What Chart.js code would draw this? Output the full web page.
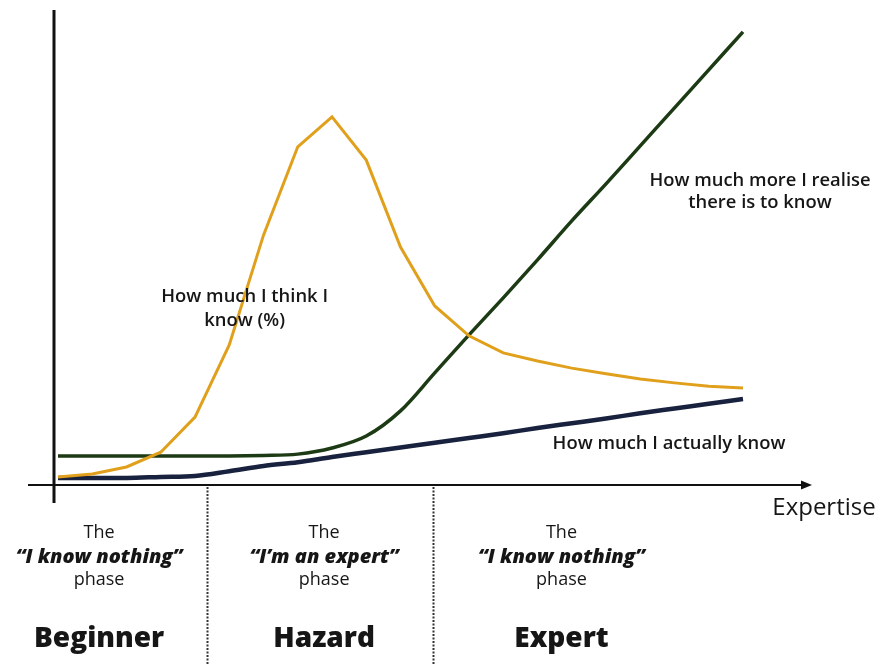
<!DOCTYPE html>
<html>
<head>
<meta charset="utf-8">
<script src="https://cdn.jsdelivr.net/npm/chart.js@4.4.1/dist/chart.umd.min.js"></script>
<style>
  html, body { margin: 0; padding: 0; background: #fff; }
  #wrap { width: 882px; height: 665px; position: relative; }
</style>
</head>
<body>
<div id="wrap"><canvas id="myChart"></canvas></div>
<script>
// expertise steps along the x axis
const stages = [0, 1, 2, 3, 4, 5, 6, 7, 8, 9, 10, 11, 12, 13, 14, 15, 16, 17, 18, 19, 20];

// how much I think I know (%)
const thinkKnow = [1.7, 2.3, 3.8, 6.9, 14.3, 29.5, 52.6, 71.2, 77.5, 68.4, 50.1, 37.7, 31.4, 27.8, 26.1, 24.6, 23.4, 22.3, 21.5, 20.8, 20.4];
// how much more I realise there is to know
const realiseMore = [6.1, 6.1, 6.1, 6.1, 6.1, 6.1, 6.2, 6.5, 7.8, 10.3, 15.6, 23.6, 31.6, 39.4, 47.4, 55.6, 63.4, 71.4, 79.4, 87.4, 95.4];
// how much I actually know
const actuallyKnow = [1.5, 1.5, 1.5, 1.7, 1.9, 2.9, 4.0, 4.8, 5.9, 6.9, 7.9, 8.9, 9.9, 10.9, 12.0, 13.0, 14.0, 15.1, 16.1, 17.1, 18.1];

// phases below the axis
const phaseEdges = [4.35, 10.95];
const phaseCenters = [1.2, 7.77, 14.7];
const phaseQuotes = ["\u201CI know nothing\u201D", "\u201CI\u2019m an expert\u201D", "\u201CI know nothing\u201D"];
const phaseNames = ["Beginner", "Hazard", "Expert"];

const FONT = "'Open Sans', Lato, sans-serif";

function pts(arr) {
  return stages.map((s, i) => ({ x: s, y: arr[i] }));
}

const curveDecor = {
  id: "curveDecor",
  afterDatasetsDraw(chart) {
    const { ctx, chartArea, scales } = chart;
    const x = scales.x, y = scales.y;
    const y0 = y.getPixelForValue(0);
    ctx.save();

    // y axis
    ctx.strokeStyle = "#111";
    ctx.lineWidth = 3;
    ctx.beginPath();
    ctx.moveTo(chartArea.left - 4, chartArea.top);
    ctx.lineTo(chartArea.left - 4, y0 + 18);
    ctx.stroke();

    // x axis with arrow
    ctx.lineWidth = 2;
    ctx.beginPath();
    ctx.moveTo(28, y0);
    ctx.lineTo(804, y0);
    ctx.stroke();
    ctx.fillStyle = "#111";
    ctx.beginPath();
    ctx.moveTo(812, y0);
    ctx.lineTo(801, y0 - 4.5);
    ctx.lineTo(801, y0 + 4.5);
    ctx.closePath();
    ctx.fill();

    // dotted phase dividers
    ctx.strokeStyle = "#333";
    ctx.lineWidth = 2;
    ctx.setLineDash([2, 1.5]);
    phaseEdges.forEach(e => {
      const px = Math.round(x.getPixelForValue(e)) + 0.5;
      ctx.beginPath();
      ctx.moveTo(px, y0 + 2);
      ctx.lineTo(px, chart.height);
      ctx.stroke();
    });
    ctx.setLineDash([]);

    ctx.fillStyle = "#161616";
    ctx.textAlign = "center";
    ctx.textBaseline = "middle";

    // phase texts
    phaseCenters.forEach((c, i) => {
      const px = x.getPixelForValue(c);
      ctx.font = "18px " + FONT;
      ctx.fillText("The", px, 533);
      ctx.font = "italic 800 20px " + FONT;
      ctx.fillText(phaseQuotes[i], px, 557);
      ctx.font = "18px " + FONT;
      ctx.fillText("phase", px, 580);
      ctx.font = "800 28px " + FONT;
      ctx.fillText(phaseNames[i], px, 639);
    });

    // axis title
    ctx.font = "24px " + FONT;
    ctx.fillText("Expertise", 824, 508);

    // curve labels
    ctx.font = "600 18.4px " + FONT;
    ctx.fillText("How much I think I", x.getPixelForValue(5.45), 297);
    ctx.fillText("know (%)", x.getPixelForValue(5.45), 321);
    ctx.fillText("How much more I realise", 760, 181);
    ctx.fillText("there is to know", 760, 203);
    ctx.fillText("How much I actually know", 669, 444);

    ctx.restore();
  }
};

window.addEventListener("load", function () {
  const ctx = document.getElementById("myChart").getContext("2d");

  new Chart(ctx, {
    type: "line",
    data: {
      datasets: [
        {
          label: "How much I think I know (%)",
          data: pts(thinkKnow),
          borderColor: "#e0a01c",
          borderWidth: 3,
          tension: 0,
          pointRadius: 0,
        },
        {
          label: "How much more I realise there is to know",
          data: pts(realiseMore),
          borderColor: "#1c3a14",
          borderWidth: 3.5,
          cubicInterpolationMode: "monotone",
          pointRadius: 0,
        },
        {
          label: "How much I actually know",
          data: pts(actuallyKnow),
          borderColor: "#18213d",
          borderWidth: 4.5,
          cubicInterpolationMode: "monotone",
          pointRadius: 0,
        },
      ],
    },
    options: {
      responsive: true,
      maintainAspectRatio: false,
      animation: false,
      clip: false,
      layout: {
        padding: { left: 58, right: 139, top: 10, bottom: 180 },
      },
      scales: {
        x: { type: "linear", min: 0, max: 20, display: false },
        y: { min: 0, max: 100, display: false },
      },
      plugins: {
        legend: { display: false },
        tooltip: { enabled: false },
      },
    },
    plugins: [curveDecor],
  });
});
</script>
</body>
</html>
